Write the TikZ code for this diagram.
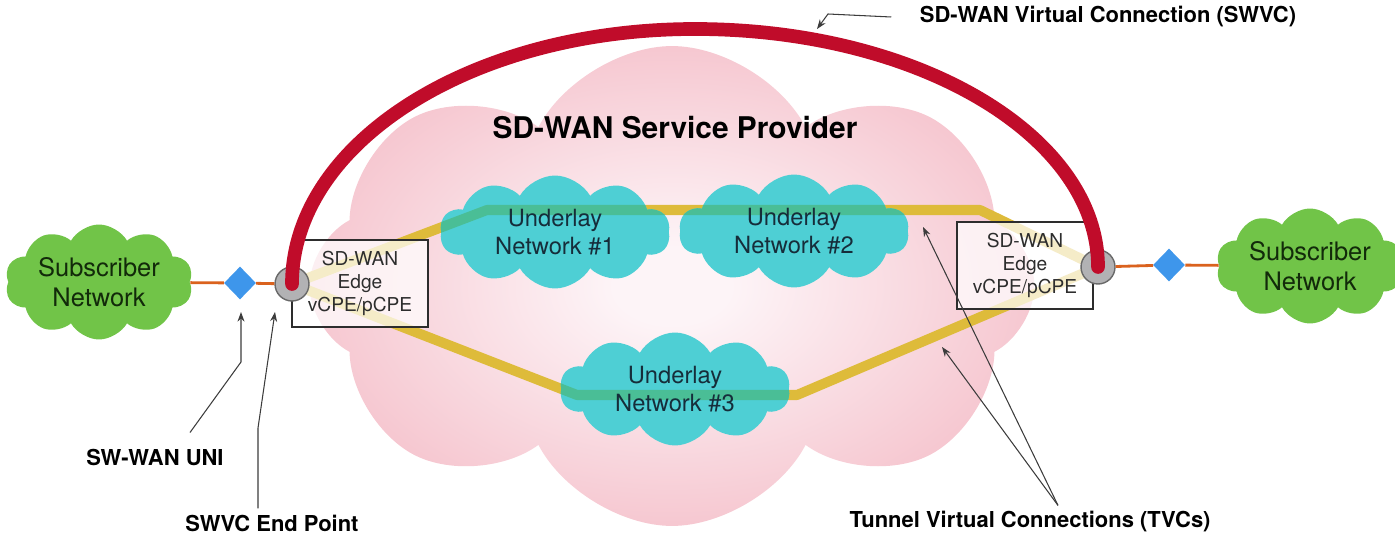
\documentclass[tikz,border=0pt]{standalone}
\usepackage{fontspec}
\setmainfont{TeX Gyre Heros}
\usetikzlibrary{shapes.symbols,shapes.geometric,arrows.meta}

\definecolor{swvcred}{RGB}{192,12,42}
\definecolor{spinner}{RGB}{253,244,247}
\definecolor{spouter}{RGB}{245,193,203}
\definecolor{tunyellow}{RGB}{222,187,58}
\definecolor{tungreen}{RGB}{74,190,150}
\definecolor{ulteal}{RGB}{78,207,212}
\definecolor{ultext}{RGB}{22,45,58}
\definecolor{subgreen}{RGB}{113,196,72}
\definecolor{subtext}{RGB}{18,42,10}
\definecolor{boxgray}{RGB}{45,45,45}
\definecolor{epgray}{RGB}{178,178,180}
\definecolor{epedge}{RGB}{105,105,105}
\definecolor{uniblue}{RGB}{62,150,235}
\definecolor{accessorange}{RGB}{218,98,30}
\definecolor{callgray}{RGB}{60,60,60}

\pgfdeclareradialshading{spglow}{\pgfpoint{0bp}{0bp}}{color(0bp)=(spinner); color(4bp)=(spinner); color(28bp)=(spouter); color(50bp)=(spouter)}

\newcommand{\drawtunnels}[1]{%
  \draw[tunnel,#1] (lend) -- (upl) -- (upr) -- (rend);
  \draw[tunnel,#1] (lend) -- (lowl) -- (lowr) -- (rend);}

\begin{document}
\begin{tikzpicture}[x=0.02cm,y=-0.02cm,
    puffy/.style={cloud,cloud puffs=10,cloud puff arc=120,cloud ignores aspect,inner sep=0pt,align=center},
    subnet/.style={puffy,fill=subgreen,minimum width=3.76cm,minimum height=2.3cm,text=subtext,font=\fontsize{14.5}{17}\selectfont},
    underlay/.style={puffy,fill=ulteal,minimum width=4.6cm,minimum height=2.26cm,text=ultext,font=\fontsize{13.5}{15.5}\selectfont,path picture={\drawtunnels{draw=tungreen}}},
    provider/.style={puffy,cloud puffs=8,cloud puff arc=125,shading=spglow,minimum width=14.5cm,minimum height=9.6cm},
    tunnel/.style={line width=5.7pt,line join=round},
    edgebox/.style={draw=boxgray,line width=0.8pt,fill=white,fill opacity=0.72,text opacity=1,minimum width=2.72cm,minimum height=1.74cm,align=center,text=boxgray,font=\fontsize{10.9}{13}\selectfont},
    endpt/.style={circle,fill=epgray,draw=epedge,line width=0.8pt,minimum size=0.68cm,inner sep=0pt},
    uni/.style={diamond,fill=uniblue,minimum width=0.64cm,minimum height=0.66cm,inner sep=0pt},
    access/.style={draw=accessorange,line width=1.6pt},
    swvc/.style={draw=swvcred,line width=7.8pt,line cap=round},
    callout/.style={draw=callgray,line width=0.6pt,-{Stealth[length=5.5pt,width=4pt]}},
    lbl/.style={font=\bfseries\fontsize{12.5}{14}\selectfont,text=black},
    title/.style={font=\bfseries\fontsize{17}{20}\selectfont,text=black}]

  \useasboundingbox (0,0) rectangle (1395,540);

  \coordinate (lend) at (292,284);
  \coordinate (rend) at (1098,267);
  \coordinate (upl)  at (487,210);
  \coordinate (upr)  at (980,210);
  \coordinate (lowl) at (577,395);
  \coordinate (lowr) at (797,395);

  \node[provider] (sp) at (672,286) {};
  \node[title] (sptitle) at (675,128) {SD-WAN Service Provider};

  \drawtunnels{draw=tunyellow}

  \node[underlay] (un1) at (555,232) {Underlay\\Network \#1};
  \node[underlay] (un2) at (794,231) {Underlay\\Network \#2};
  \node[underlay] (un3) at (675,389) {Underlay\\Network \#3};

  \node[subnet] (lsub) at (99,282)   {Subscriber\\Network};
  \node[subnet] (rsub) at (1310,266) {Subscriber\\Network};

  \node[edgebox] (ledge) at (360,283.5)  {SD-WAN\\Edge\\vCPE/pCPE};
  \node[edgebox] (redge) at (1025,265.5) {SD-WAN\\Edge\\vCPE/pCPE};

  \node[uni] (luni) at (240,283)  {};
  \node[uni] (runi) at (1169,265) {};

  \node[endpt] (lep) at (lend) {};
  \node[endpt] (rep) at (rend) {};

  \path[access] (lsub) -- (luni) -- (lep);
  \path[access] (rep) -- (runi) -- (rsub);

  \coordinate (arctop) at (695,29);
  \draw[swvc] (lep.center) .. controls +(0,-140) and +(-225,0) .. (arctop)
    .. controls +(225,0) and +(0,-130) .. (rep.center);

  \node[lbl] (swvclbl) at (1108,17)  {SD-WAN Virtual Connection (SWVC)};
  \node[lbl] (unilbl)  at (155,457)  {SW-WAN UNI};
  \node[lbl] (eplbl)   at (272,523)  {SWVC End Point};
  \node[lbl] (tvclbl)  at (1030,522) {Tunnel Virtual Connections (TVCs)};

  \coordinate (swvcbend) at (828,14);
  \coordinate (swvctip)  at (817,29);
  \coordinate (unibend)  at (241,362);
  \coordinate (unitip)   at (241,312);
  \coordinate (epbend)   at (258,428);
  \coordinate (eptip)    at (275,312);
  \coordinate (tvctipa)  at (923,227);
  \coordinate (tvctipb)  at (942,347);

  \draw[callout] ([xshift=-0.45cm]swvclbl.west) -- (swvcbend) -- (swvctip);
  \draw[callout] ([xshift=0.7cm,yshift=0.2cm]unilbl.north) -- (unibend) -- (unitip);
  \draw[callout] ([xshift=-0.28cm]eplbl.north) -- (epbend) -- (eptip);
  \draw[callout] ([xshift=0.56cm]tvclbl.north) -- (tvctipa);
  \draw[callout] ([xshift=0.56cm]tvclbl.north) -- (tvctipb);

\end{tikzpicture}
\end{document}
